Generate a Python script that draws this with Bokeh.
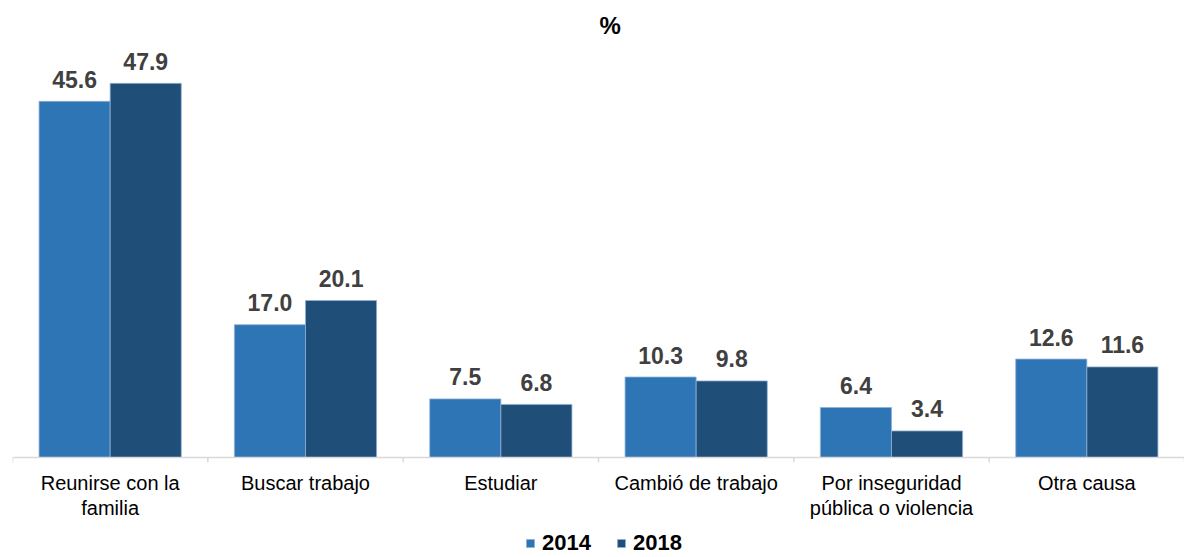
from bokeh.plotting import figure
from bokeh.models import FactorRange, ColumnDataSource, Span, Legend, LegendItem
from bokeh.transform import dodge
from bokeh.core.properties import value
from bokeh.embed import file_html
from bokeh.resources import INLINE

categories = ["Reunirse con la\nfamilia", "Buscar trabajo", "Estudiar",
              "Cambió de trabajo", "Por inseguridad\npública o violencia", "Otra causa"]
series_names = ["2014", "2018"]
values_2014 = [45.6, 17.0, 7.5, 10.3, 6.4, 12.6]
values_2018 = [47.9, 20.1, 6.8, 9.8, 3.4, 11.6]
title_text = "%"

FONT = "Liberation Sans"
C2014 = "#2E75B6"
C2018 = "#1F4E79"

src = ColumnDataSource(dict(
    cat=categories,
    v14=values_2014,
    v18=values_2018,
    l14=[f"{v:.1f}" for v in values_2014],
    l18=[f"{v:.1f}" for v in values_2018],
))

p = figure(x_range=FactorRange(factors=categories, range_padding=0),
           y_range=(-12.804, 58.51),
           frame_width=1172, frame_height=557,
           x_axis_location=None, y_axis_location=None,
           min_border_left=12, min_border_right=0, min_border_top=0, min_border_bottom=0,
           output_backend="svg", toolbar_location=None)

off = 0.182
w = 0.364
r14 = p.vbar(x=dodge("cat", -off, range=p.x_range), top="v14", width=w, source=src,
             fill_color=C2014, line_color="#8fb0d4", line_width=0.8)
r18 = p.vbar(x=dodge("cat", off, range=p.x_range), top="v18", width=w, source=src,
             fill_color=C2018, line_color="#8fb0d4", line_width=0.8)

common = dict(text_font=value(FONT), text_font_style="bold", text_font_size="23px",
              text_color="#404040", text_align="center", text_baseline="alphabetic",
              y_offset=-22, source=src)
p.text(x=dodge("cat", -off, range=p.x_range), y="v14", text="l14", **common)
p.text(x=dodge("cat", off, range=p.x_range), y="v18", text="l18", **common)

# title
p.text(x=[3.06], y=[55.3], text=[title_text], text_font=value(FONT), text_font_style="bold",
       text_font_size="24px", text_color="#000000", text_align="center", text_baseline="middle")

# baseline + boundary ticks
p.add_layout(Span(location=0, dimension="width", line_color="#d9d9d9", line_width=1.5))
bounds = list(range(len(categories) + 1))
p.segment(x0=bounds, y0=[0] * len(bounds), x1=bounds, y1=[-0.64] * len(bounds),
          line_color="#d9d9d9", line_width=1.5)

# category labels
p.text(x="cat", y=-1.86, text="cat", source=src, text_font=value(FONT),
       text_font_size="20px", text_color="#000000", text_align="center",
       text_baseline="top", text_line_height=1.15)

p.xgrid.visible = False
p.ygrid.visible = False
p.outline_line_color = None

legend = Legend(items=[LegendItem(label=series_names[0], renderers=[r14]),
                       LegendItem(label=series_names[1], renderers=[r18])],
                location=(513, 1), orientation="horizontal",
                glyph_width=10, glyph_height=10, label_standoff=7, spacing=25,
                padding=0, margin=0, border_line_color=None, background_fill_alpha=0,
                label_text_font=FONT, label_text_font_style="bold",
                label_text_font_size="22px", label_text_color="#000000", label_height=18)
p.add_layout(legend, "center")

open("out.html", "w").write(file_html(p, INLINE))
